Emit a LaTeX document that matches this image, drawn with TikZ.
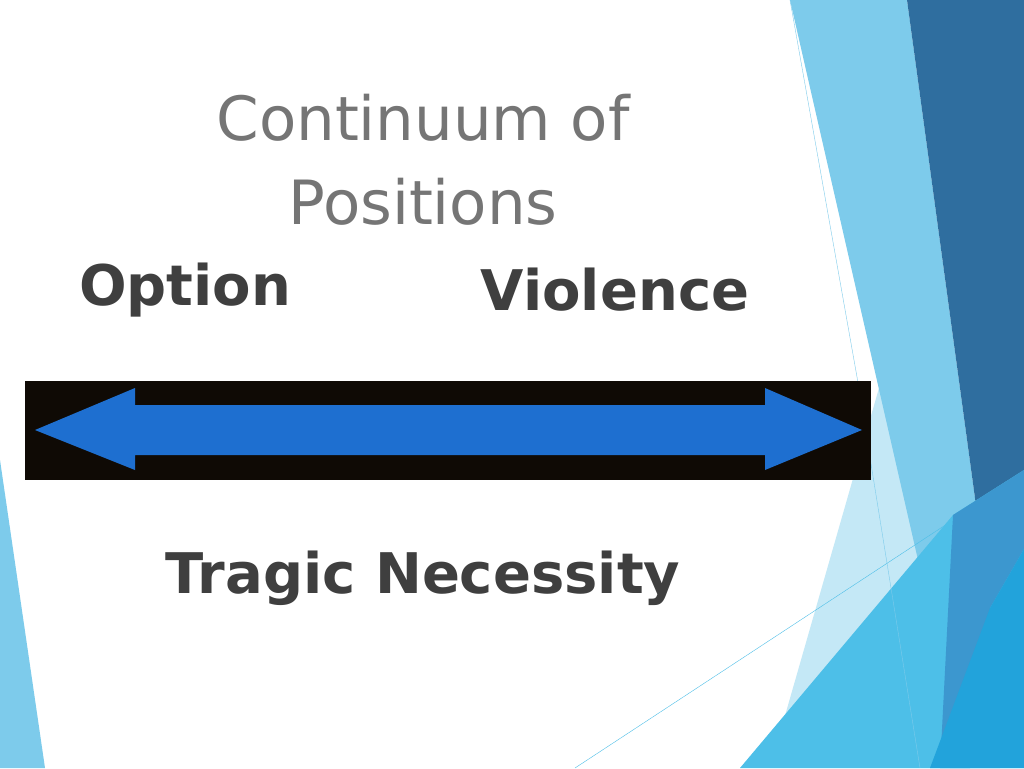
\documentclass[tikz,border=0pt]{standalone}
\usepackage{fontspec}
\setmainfont{DejaVu Sans}
\definecolor{darkb}{HTML}{2F6E9F}
\definecolor{midb}{HTML}{3C97CF}
\definecolor{lightb}{HTML}{7DCBEB}
\definecolor{paleb}{HTML}{C4E8F6}
\definecolor{cyanl}{HTML}{4DBFE8}
\definecolor{cyanb}{HTML}{22A3DB}
\definecolor{arrowb}{HTML}{1E6FD0}
\definecolor{titleg}{HTML}{757575}
\definecolor{textg}{HTML}{3F3F3F}
\begin{document}
\begin{tikzpicture}[x=1pt,y=-1pt,
  title/.style={text=titleg,font=\fontsize{61}{84}\selectfont,align=center},
  label/.style={text=textg,font=\bfseries\fontsize{56}{64}\selectfont}]
\useasboundingbox (0,0) rectangle (1024,768);
\fill[white] (0,0) rectangle (1024,768);
% right decoration
\fill[paleb] (887,360) -- (950,768) -- (770,768) -- cycle;
\fill[lightb] (790,0) -- (907,0) -- (990,608) -- (1000,768) -- (950,768) -- (950,700) -- cycle;
\fill[darkb] (907,0) -- (1024,0) -- (1024,549) -- (990,608) -- cycle;
\fill[cyanl] (740,768) -- (953,515) -- (1024,470) -- (1024,768) -- cycle;
\fill[midb] (953,515) -- (1024,470) -- (1024,549) -- (990,608) -- (970,768) -- (940,768) -- cycle;
\fill[cyanb] (990,608) -- (1024,549) -- (1024,768) -- (930,768) -- cycle;
\draw[lightb,thin] (790,0) -- (857,377) -- (920,768);
\draw[cyanl,thin] (575,768) -- (953,520);
% left sliver
\fill[lightb] (0,460) -- (45,768) -- (0,768) -- cycle;
% titles
\node[title] (t) at (423,160) {Continuum of\\Positions};
\node[label] (opt) at (185,290) {Option};
\node[label] (vio) at (615,290) {Violence};
% arrow
\fill[black!92!brown] (25,381) rectangle (871,480);
\fill[arrowb] (35,430) -- (135,388) -- (135,405) -- (765,405) -- (765,388) -- (862,430) -- (765,470) -- (765,455) -- (135,455) -- (135,470) -- cycle;
\node[label] (tn) at (423,578) {Tragic Necessity};
\end{tikzpicture}
\end{document}
